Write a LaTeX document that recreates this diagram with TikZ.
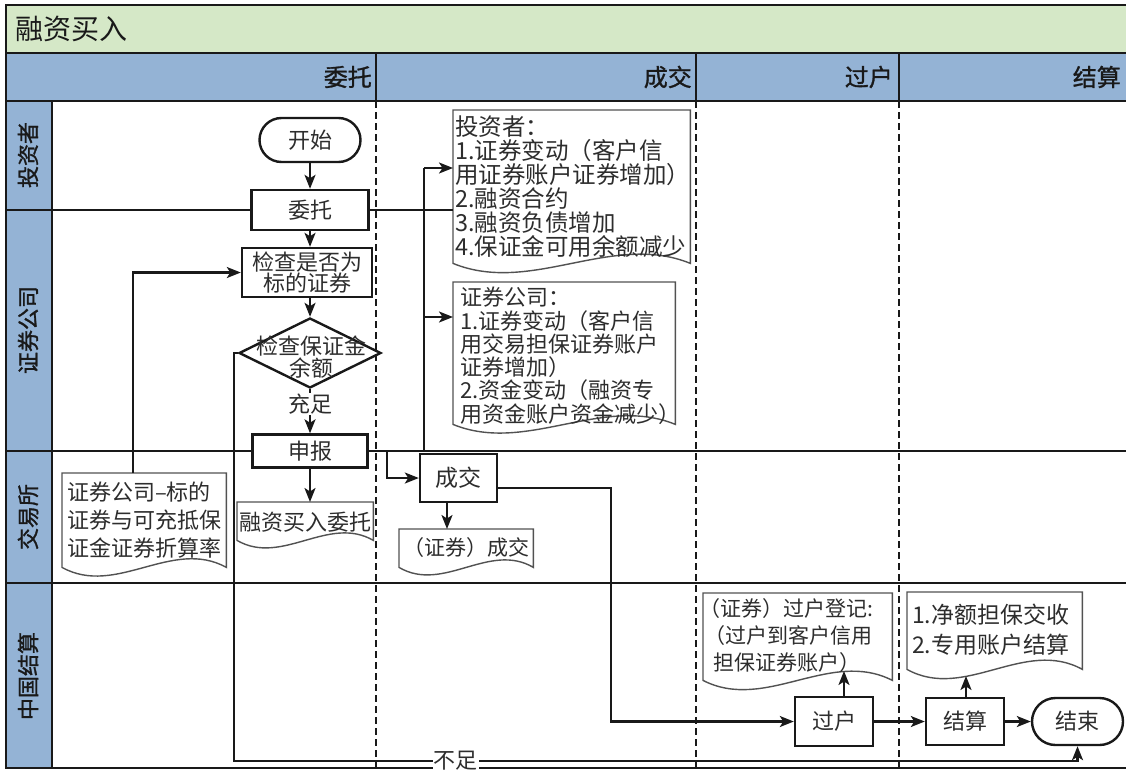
\documentclass[tikz,border=0pt]{standalone}
\usepackage{fontspec}
\setmainfont{Noto Sans CJK SC}
\newfontfamily\hdfont[FakeBold=1.2]{Noto Sans CJK SC}
\usetikzlibrary{arrows.meta,shapes.geometric,calc}
\definecolor{titlegreen}{RGB}{213,232,199}
\definecolor{headblue}{RGB}{148,179,213}
\definecolor{ink}{RGB}{25,25,25}
\definecolor{txt}{RGB}{45,45,45}
\tikzset{
  conn/.style={line width=2.2pt, draw=ink},
  arr/.style={conn, -{Stealth[length=14pt,width=11pt,inset=3.5pt]}},
  procbox/.style={draw=ink, line width=2.4pt, fill=white, inner sep=0pt, text=txt, font=\fontsize{22}{22}\selectfont, align=center},
  docbody/.style={draw=none, inner sep=0pt, anchor=north west},
  docline/.style={draw=ink!75, line width=1.4pt},
  doctext/.style={anchor=north west, inner sep=0pt, text=txt, align=left},
  lanelbl/.style={rotate=90, font=\hdfont\fontsize{22}{22}\selectfont, text=ink, inner sep=0pt},
  headlbl/.style={anchor=east, font=\hdfont\fontsize{24}{24}\selectfont, text=ink, inner sep=0pt},
  laneline/.style={line width=2.2pt, draw=ink},
  dashsep/.style={line width=2.2pt, draw=ink, dash pattern=on 7pt off 4pt},
  framel/.style={line width=2.6pt, draw=ink},
  tag/.style={fill=white, inner sep=1pt, text=txt, font=\fontsize{22}{22}\selectfont},
}
\newcommand\docnode[6]{%
  \node[docbody, minimum width={(#4-#2)*1pt}, minimum height={(#5-#3)*1pt}] (#1) at (#2,#3) {};
  \filldraw[docline, fill=white] (#1.south west) -- (#1.north west) -- (#1.north east) -- (#1.south east)
    .. controls ($(#1.south west)!0.67!(#1.south east)+(0,-#6)$) and ($(#1.south west)!0.33!(#1.south east)+(0,#6)$) .. (#1.south west) -- cycle;
}
\begin{document}
\begin{tikzpicture}[x=1pt,y=-1pt]
\useasboundingbox (0,0) rectangle (1126,771);
\clip (0,0) rectangle (1126,771);
\fill[white] (0,0) rectangle (1126,771);
% bands
\fill[titlegreen] (6,5) rectangle (1130,53);
\fill[headblue] (6,53) rectangle (1130,101);
\fill[headblue] (6,101) rectangle (52,768);
% column separators
\draw[dashsep] (376,101) -- (376,768);
\draw[dashsep] (696,101) -- (696,768);
\draw[dashsep] (899,101) -- (899,768);
% lane lines
\draw[laneline] (6,210) -- (453,210);
\draw[laneline] (6,451) -- (1130,451);
\draw[laneline] (6,583) -- (1130,583);
% frame
\draw[framel] (1130,5) -- (6,5) -- (6,768) -- (1130,768);
\draw[framel] (6,53) -- (1130,53);
\draw[framel] (6,101) -- (1130,101);
\draw[laneline] (52,101) -- (52,768);
\draw[laneline] (376,53) -- (376,101);
\draw[laneline] (696,53) -- (696,101);
\draw[laneline] (899,53) -- (899,101);
% title and headers
\node[anchor=west, inner sep=0pt, font=\fontsize{28}{28}\selectfont, text=ink] (title) at (15,29) {融资买入};
\node[headlbl] (h1) at (372,77) {委托};
\node[headlbl] (h2) at (692,77) {成交};
\node[headlbl] (h3) at (893,77) {过户};
\node[headlbl] (h4) at (1121,77) {结算};
\node[lanelbl] (l1) at (28,155) {投资者};
\node[lanelbl] (l2) at (28,330) {证券公司};
\node[lanelbl] (l3) at (28,517) {交易所};
\node[lanelbl] (l4) at (28,676) {中国结算};
% process nodes
\node[procbox, minimum width=101pt, minimum height=44pt, rounded corners=22pt] (start) at (310,140) {开始};
\node[procbox, minimum width=117pt, minimum height=40pt] (wt) at (310,210) {委托};
\node[procbox, minimum width=130pt, minimum height=49pt, font=\fontsize{22}{20}\selectfont] (chk) at (307,272.5) {检查是否为\\标的证券};
\node[draw=ink, line width=2.4pt, fill=white, diamond, minimum width=142pt, minimum height=70pt, inner sep=0pt] (dia) at (310,353) {};
\node[text=txt, font=\fontsize{22}{20}\selectfont, align=center, inner sep=0pt] (diaT) at (311,357) {检查保证金\\余额};
\node[procbox, minimum width=115pt, minimum height=33pt] (sb) at (310,451) {申报};
\node[procbox, minimum width=77pt, minimum height=48pt, font=\fontsize{23}{23}\selectfont] (cj) at (458.5,478) {成交};
\node[procbox, minimum width=78pt, minimum height=49pt] (gh) at (834,721.5) {过户};
\node[procbox, minimum width=78pt, minimum height=47pt] (js) at (965,721.5) {结算};
\node[procbox, minimum width=91pt, minimum height=47pt, rounded corners=23.5pt] (fin) at (1077.5,721.5) {结束};
% documents
\docnode{tzz}{453}{110}{690}{263}{32}
\node[doctext, font=\fontsize{23.5}{24}\selectfont] (tzzT) at (455,116) {投资者：\\1.证券变动（客户信\\用证券账户证券增加）\\2.融资合约\\3.融资负债增加\\4.保证金可用余额减少};
\docnode{zqgs}{453}{282}{675}{424}{30}
\node[doctext, font=\fontsize{22}{23.3}\selectfont] (zqgsT) at (460,287) {证券公司：\\1.证券变动（客户信\\用交易担保证券账户\\证券增加）\\2.资金变动（融资专\\用资金账户资金减少）};
\docnode{bzq}{62}{473}{226}{567}{30}
\node[doctext, font=\fontsize{22}{28}\selectfont] (bzqT) at (67,482) {证券公司–标的\\证券与可充抵保\\证金证券折算率};
\docnode{rzmr}{237}{502}{373}{540}{26}
\node[text=txt, inner sep=0pt, font=\fontsize{22}{22}\selectfont] (rzmrT) at (305,522) {融资买入委托};
\docnode{zqcj}{399}{529}{533}{567}{26}
\node[text=txt, inner sep=0pt, font=\fontsize{21}{21}\selectfont] (zqcjT) at (466,548) {（证券）成交};
\docnode{ghdj}{703}{593}{892}{680}{32}
\node[doctext, font=\fontsize{21}{27}\selectfont] (ghdjT) at (699,598) {（证券）过户登记:\\\hspace*{5pt}（过户到客户信用\\\hspace*{14pt}担保证券账户）};
\docnode{jeds}{907}{592}{1082}{669}{32}
\node[doctext, font=\fontsize{23}{30}\selectfont] (jedsT) at (912,604) {1.净额担保交收\\2.专用账户结算};
% connectors
\draw[arr] (start.south) -- (start.south |- wt.north);
\draw[arr] (wt.south) -- (wt.south |- chk.north);
\draw[arr] (chk.south -| dia.north) -- (dia.north);
\draw[arr] (dia.south) -- node[tag, pos=0.34] (cz) {充足} (dia.south |- sb.north);
\draw[arr] (sb.south) -- (sb.south |- rzmr.north);
\draw[conn] (wt.east) -- (wt.east -| tzz.west);
\coordinate (sbr) at (387,451);
\draw[arr] (sb.east) -- (sbr) |- (cj.west);
\coordinate (up) at (424,451);
\coordinate (ja) at (424,168);
\coordinate (jb) at (424,317);
\draw[conn] (sbr) -- (up) -- (ja);
\draw[arr] (ja) -- (ja -| tzz.west);
\draw[arr] (jb) -- (jb -| zqgs.west);
\coordinate (bz) at (133,473);
\draw[arr] (bz) |- (chk.west);
\coordinate (lp) at (234,353);
\coordinate (lb) at (234,761);
\coordinate (rb) at (1077.5,761);
\draw[arr] (dia.west) -- (lp) -- (lb) -- node[tag, pos=0.263] (bzu) {不足} (rb) -- (fin.south);
\coordinate (cjo) at (497,488);
\coordinate (cjk) at (611,488);
\draw[arr] (cjo) -- (cjk) |- (gh.west);
\coordinate (cjd) at (447,502);
\draw[arr] (cjd) -- (cjd |- zqcj.north);
\coordinate (ghu) at (844,697);
\coordinate (ghw) at (844,671);
\draw[arr] (ghu) -- (ghw);
\coordinate (jsu) at (966,698);
\coordinate (jsw) at (966,676);
\draw[arr] (jsu) -- (jsw);
\draw[arr] (gh) -- (js);
\draw[arr] (js) -- (fin);
\end{tikzpicture}
\end{document}
